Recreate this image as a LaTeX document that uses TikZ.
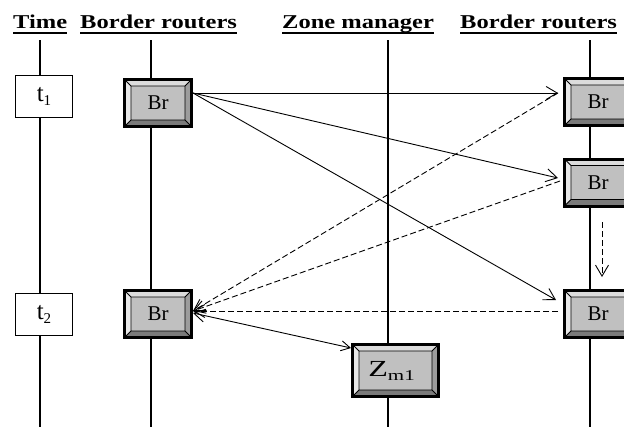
\documentclass[tikz,border=0pt]{standalone}
\usepackage{fontspec}
\setmainfont{Liberation Serif}
\usepackage{graphicx}
\usetikzlibrary{arrows.meta,calc}

\definecolor{facegray}{HTML}{C0C0C0}
\definecolor{bevtop}{HTML}{DCDCDC}
\definecolor{bevleft}{HTML}{E8E8E8}
\definecolor{bevbottom}{HTML}{7A7A7A}
\definecolor{bevright}{HTML}{9C9C9C}

\newcommand{\hdr}[1]{\scalebox{1.25}[1]{#1}}

\tikzset{
  x=1pt, y=-1pt,
  lifeline/.style={line width=1.8pt},
  uline/.style={line width=2pt},
  header/.style={anchor=base west, inner sep=0pt,
    font=\fontsize{19.6}{20}\selectfont\bfseries},
  timebox/.style={rectangle, draw, line width=1.5pt, fill=white,
    inner sep=0pt, minimum width=57pt, minimum height=42pt},
  bevelbox/.style={rectangle, inner sep=0pt, fill=facegray, draw=black,
    line width=3pt, minimum width=67pt, minimum height=47pt,
    font=\fontsize{21}{21}\selectfont,
    path picture={
      \path (path picture bounding box.south west) coordinate (bl)
            (path picture bounding box.north east) coordinate (tr)
            (bl |- tr) coordinate (tl)
            (tr |- bl) coordinate (br)
            ($(tl)+(6.5pt,-6.5pt)$) coordinate (itl)
            ($(tr)+(-6.5pt,-6.5pt)$) coordinate (itr)
            ($(bl)+(6.5pt,6.5pt)$) coordinate (ibl)
            ($(br)+(-6.5pt,6.5pt)$) coordinate (ibr);
      \fill[bevtop] (tl) -- (tr) -- (itr) -- (itl) -- cycle;
      \fill[bevleft] (tl) -- (itl) -- (ibl) -- (bl) -- cycle;
      \fill[bevbottom] (bl) -- (ibl) -- (ibr) -- (br) -- cycle;
      \fill[bevright] (br) -- (ibr) -- (itr) -- (tr) -- cycle;
      \draw[line width=0.8pt] (itl) rectangle (ibr)
        (tl) -- (itl) (tr) -- (itr) (bl) -- (ibl) (br) -- (ibr);
    }},
  msg/.style={line width=0.9pt, -{Straight Barb[length=11pt,width=13pt]}},
  reply/.style={msg, dash pattern=on 6pt off 3pt},
}

\begin{document}
\begin{tikzpicture}
\useasboundingbox (0,0) rectangle (624,426);

% column headings
\node[header] (hT) at (13,28) {\hdr{Time}};
\node[header] (hB1) at (80,28) {\hdr{Border routers}};
\node[header] (hZ) at (282,28) {\hdr{Zone manager}};
\node[header] (hB2) at (460,28) {\hdr{Border routers}};
\foreach \h in {hT,hB1,hZ,hB2}
  \draw[uline] ([yshift=-4.5pt]\h.base west) -- ([yshift=-4.5pt]\h.base east);

% life lines
\coordinate (lT0) at (40,40);   \coordinate (lT1) at (40,430);
\coordinate (lB0) at (151,40);  \coordinate (lB1) at (151,430);
\coordinate (lZ0) at (388,40);  \coordinate (lZ1) at (388,430);
\coordinate (lR0) at (590,40);  \coordinate (lR1) at (590,430);
\draw[lifeline] (lT0) -- (lT1);
\draw[lifeline] (lB0) -- (lB1);
\draw[lifeline] (lZ0) -- (lZ1);
\draw[lifeline] (lR0) -- (lR1);

% time marks
\node[timebox] (t1) at (44,96.5) {\fontsize{25}{25}\selectfont t\raisebox{-4pt}{\fontsize{15}{15}\selectfont 1}};
\node[timebox] (t2) at (44,314.5) {\fontsize{25}{25}\selectfont t\raisebox{-4pt}{\fontsize{15}{15}\selectfont 2}};

% routers and zone manager
\node[bevelbox] (brA) at (158,103) {Br};
\node[bevelbox] (brB) at (598,102) {Br};
\node[bevelbox] (brC) at (598,182.5) {Br};
\node[bevelbox] (brD) at (598,314) {Br};
\node[bevelbox] (brE) at (158,314) {Br};
\node[bevelbox, minimum width=86pt, minimum height=52pt] (zm) at (395.5,370.5)
  {\scalebox{1.4}[1]{\fontsize{23}{23}\selectfont Z\raisebox{-4pt}{\fontsize{15}{15}\selectfont m1}}\hspace*{8pt}};

% requests sent at t1
\draw[msg] ([yshift=10pt]brA.east) -- ([xshift=-5pt,yshift=9pt]brB.west);
\draw[msg] ([yshift=10pt]brA.east) -- ([xshift=-5pt,yshift=4.5pt]brC.west);
\draw[msg] ([yshift=10pt]brA.east) -- ([xshift=-7pt,yshift=14pt]brD.west);

% replies received at t2
\draw[reply] ([xshift=-5pt,yshift=9pt]brB.west) -- ([yshift=3pt]brE.east);
\draw[reply] ([xshift=-3pt,yshift=1.5pt]brC.west) -- ([yshift=3pt]brE.east);
\draw[reply] ([xshift=-5pt,yshift=3pt]brD.west) -- ([yshift=3pt]brE.east);

% hand-over between the right-hand routers
\coordinate (v1) at (602,222);
\coordinate (v2) at (602,277);
\draw[reply] (v1) -- (v2);

% exchange with the zone manager
\draw[line width=0.9pt, {Straight Barb[length=11pt,width=13pt]}-{Straight Barb[length=9pt,width=10pt]}]
  ([yshift=1pt]brE.east) -- ([yshift=-5pt]zm.north west);
\end{tikzpicture}
\end{document}
